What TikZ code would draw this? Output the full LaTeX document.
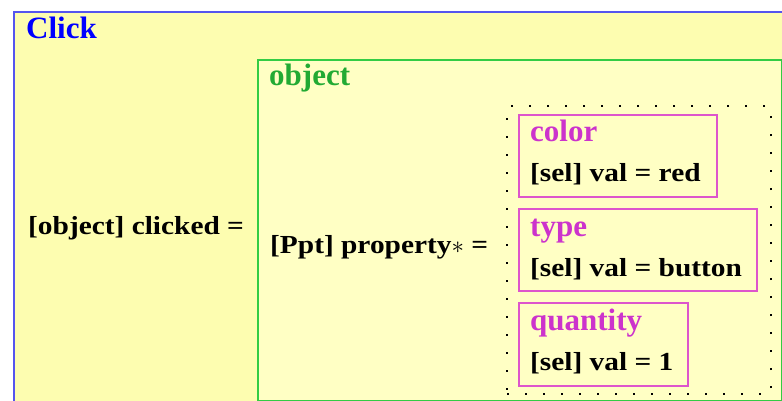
\documentclass[tikz,border=0pt]{standalone}
\usepackage{fontspec}
\setmainfont{Liberation Serif}
\newfontfamily\bodyfont[FakeStretch=1.13]{Liberation Serif}
\definecolor{outerfill}{HTML}{FDFDB0}
\definecolor{innerfill}{HTML}{FFFFC4}
\definecolor{outerline}{HTML}{5555EE}
\definecolor{greenline}{HTML}{33CC44}
\definecolor{greentext}{HTML}{22AA33}
\definecolor{magline}{HTML}{DD55CC}
\definecolor{magtext}{HTML}{CC33CC}
\definecolor{titleblue}{HTML}{0000FF}
\tikzset{
  headtxt/.style={anchor=base west, inner sep=0pt, font=\fontsize{31}{33}\selectfont\bfseries},
  bodytxt/.style={anchor=base west, inner sep=0pt, font=\bodyfont\fontsize{26}{28}\selectfont\bfseries},
  propbox/.style={draw=magline, line width=1.8pt, fill=innerfill, anchor=north west, inner sep=0pt},
}
\begin{document}
\begin{tikzpicture}[x=1pt,y=-1pt]
\useasboundingbox (0,0) rectangle (782,401);
% outer box
\node[draw=outerline, line width=1.6pt, fill=outerfill, anchor=north west, minimum width=800pt, minimum height=420pt, inner sep=0pt] (outer) at (13,11) {};
\node[headtxt, text=titleblue] (title) at (26,39) {Click};
\node[bodytxt] (clicked) at (28,234) {[object] clicked =};
% object box
\node[draw=greenline, line width=1.8pt, fill=innerfill, anchor=north west, minimum width=524pt, minimum height=341pt, inner sep=0pt] (objbox) at (257,59) {};
\node[headtxt, text=greentext] (objtitle) at (269,86) {object};
\node[bodytxt] (prop) at (270,253) {[Ppt] property$\ast$ =};
% dotted set
\node[draw=black, line width=2.2pt, dash pattern=on 2pt off 16pt, anchor=north west, minimum width=264pt, minimum height=288pt, inner sep=0pt] (setbox) at (506,105) {};
% property boxes
\node[propbox, minimum width=198pt, minimum height=82pt] (colorbox) at (518,114) {};
\node[headtxt, text=magtext] (colorlbl) at (530,142) {color};
\node[bodytxt] (colorval) at (530,182) {[sel] val = red};
\node[propbox, minimum width=238pt, minimum height=82pt] (typebox) at (518,208) {};
\node[headtxt, text=magtext] (typelbl) at (530,236) {type};
\node[bodytxt] (typeval) at (530,276) {[sel] val = button};
\node[propbox, minimum width=169pt, minimum height=83pt] (qtybox) at (518,302) {};
\node[headtxt, text=magtext] (qtylbl) at (530,330) {quantity};
\node[bodytxt] (qtyval) at (530,370) {[sel] val = 1};
\end{tikzpicture}
\end{document}
